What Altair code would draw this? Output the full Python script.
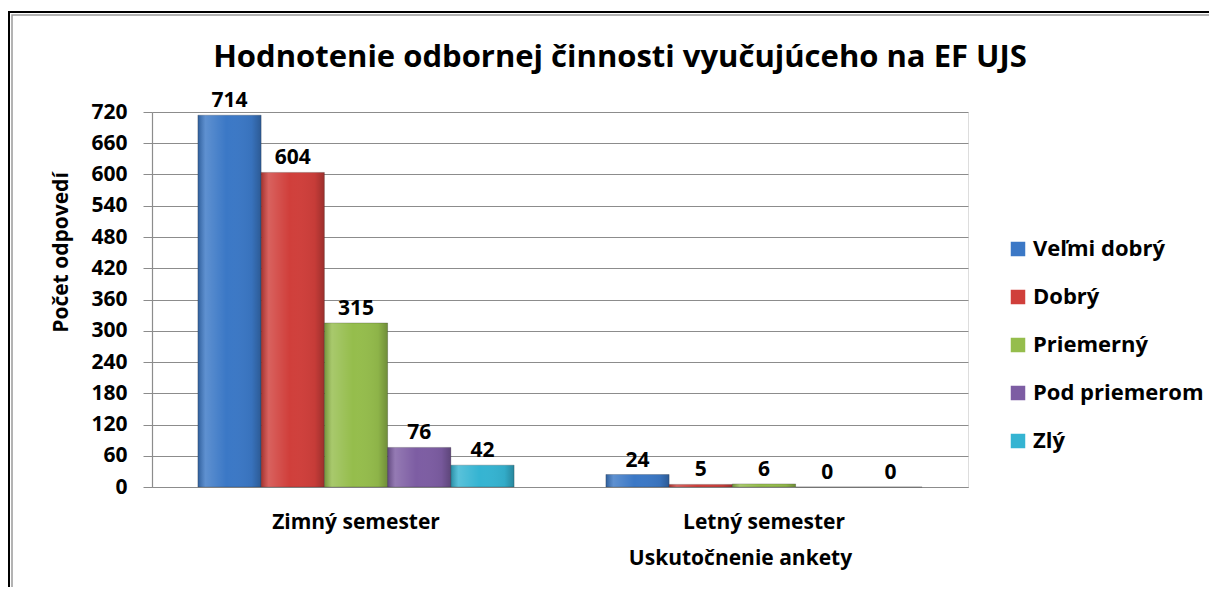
import altair as alt
import pandas as pd

semesters = ["Zimný semester", "Letný semester"]
ratings = ["Veľmi dobrý", "Dobrý", "Priemerný", "Pod priemerom", "Zlý"]
zimny = [714, 604, 315, 76, 42]
letny = [24, 5, 6, 0, 0]
colors = ["#3B78C6", "#D03F3B", "#95BD4C", "#7D5DA3", "#35B4D2"]
y_ticks = list(range(0, 721, 60))

rows = []
for sem, vals in zip(semesters, [zimny, letny]):
    for r, v in zip(ratings, vals):
        rows.append({"semester": sem, "rating": r, "value": v})
df = pd.DataFrame(rows)

FONT = "Open Sans"
FS = 21

x_enc = alt.X("semester:N", sort=semesters,
              scale=alt.Scale(paddingInner=0.225, paddingOuter=0.1125),
              axis=alt.Axis(title="Uskutočnenie ankety", titleX=588, titleY=60,
                            titleFontSize=FS, titleFontWeight="bold", titleFont=FONT,
                            titleColor="black",
                            labelFontSize=FS, labelFontWeight="bold", labelFont=FONT,
                            labelColor="black", labelPadding=24, labelAngle=0,
                            ticks=False, domainColor="#8C8C8C", domainWidth=1.2,
                            grid=False))
xoff = alt.XOffset("rating:N", sort=ratings, scale=alt.Scale(paddingInner=0, paddingOuter=0))
y_enc = alt.Y("value:Q", scale=alt.Scale(domain=[0, 720], nice=False),
              axis=alt.Axis(title="Počet odpovedí", values=y_ticks,
                            titleX=-81, titleY=140, titleFontSize=FS,
                            titleFontWeight="bold", titleFont=FONT, titleColor="black",
                            labelFontSize=FS, labelFontWeight="bold", labelFont=FONT,
                            labelColor="black", labelPadding=16,
                            tickSize=9, tickColor="#8C8C8C", domainColor="#8C8C8C",
                            gridColor="#8C8C8C", gridWidth=1, domainWidth=1.2))

base = alt.Chart(df)

bars = base.mark_bar(stroke="#2a2a2a", strokeOpacity=0.25, strokeWidth=1).encode(
    x=x_enc, xOffset=xoff, y=y_enc,
    color=alt.Color("rating:N", sort=ratings,
                    scale=alt.Scale(domain=ratings, range=colors),
                    legend=alt.Legend(title=None, orient="none", legendX=855, legendY=126,
                                      symbolType="square", symbolSize=210,
                                      symbolStrokeWidth=0,
                                      labelFontSize=22, labelFontWeight="bold",
                                      labelFont=FONT, labelColor="black",
                                      rowPadding=26, labelOffset=4, labelLimit=300)),
)

shade = alt.Gradient(
    gradient="linear", x1=0, x2=1, y1=0, y2=0,
    stops=[
        alt.GradientStop(color="rgba(0,0,0,0.22)", offset=0),
        alt.GradientStop(color="rgba(255,255,255,0.18)", offset=0.12),
        alt.GradientStop(color="rgba(255,255,255,0.0)", offset=0.45),
        alt.GradientStop(color="rgba(0,0,0,0.05)", offset=0.85),
        alt.GradientStop(color="rgba(0,0,0,0.25)", offset=1),
    ],
)
overlay = base.mark_bar(fill=shade).encode(x=x_enc, xOffset=xoff, y=y_enc)

labels = base.mark_text(baseline="bottom", dy=-4, fontSize=FS, fontWeight="bold",
                        font=FONT, color="black").encode(
    x=x_enc, xOffset=xoff, y=y_enc, text="value:Q")

frame = alt.Chart(alt.Data(values=[{}])).mark_rect(
    fill="transparent", stroke="black", strokeWidth=2).encode(
    x=alt.value(-143), x2=alt.value(1300), y=alt.value(-100), y2=alt.value(700))
frame2 = alt.Chart(alt.Data(values=[{}])).mark_rect(
    fill="transparent", stroke="#9a9a9a", strokeWidth=1.5).encode(
    x=alt.value(-140), x2=alt.value(1300), y=alt.value(-97), y2=alt.value(700))

chart = alt.layer(frame, frame2, bars, overlay, labels).properties(
    width=816, height=375,
    title=alt.TitleParams("Hodnotenie odbornej činnosti vyučujúceho na EF UJS",
                          fontSize=31, fontWeight="bold", font=FONT, color="black",
                          anchor="middle", dx=60, offset=-63),
    autosize=alt.AutoSizeParams(type="none"),
    padding={"left": 144, "top": 104, "right": 241, "bottom": 100},
).configure_view(stroke=None).configure(background="white")

chart.save("out.html", embed_options={"renderer": "svg", "actions": False})
